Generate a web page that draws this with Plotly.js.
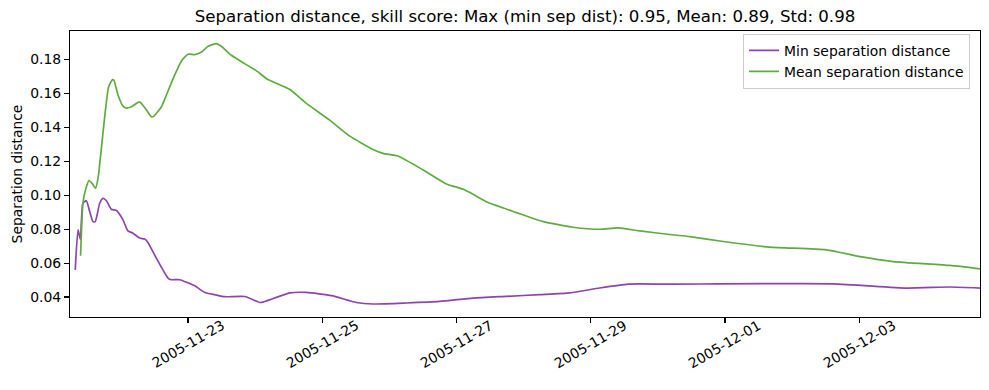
<!DOCTYPE html>
<html>
<head>
<meta charset="utf-8">
<script src="https://cdn.plot.ly/plotly-3.0.1.min.js"></script>
<style>html,body{margin:0;padding:0;background:#fff;}#chart{width:989px;height:390px;}</style>
</head>
<body>
<div id="chart"></div>
<script>
// Min separation distance
const minTimes = [
  '2005-11-21 07:40','2005-11-21 08:40','2005-11-21 09:30','2005-11-21 10:25','2005-11-21 11:40',
  '2005-11-21 12:50','2005-11-21 14:00','2005-11-21 14:50','2005-11-21 16:25','2005-11-21 17:35',
  '2005-11-21 18:50','2005-11-21 20:35','2005-11-21 22:25','2005-11-22 00:45','2005-11-22 02:30',
  '2005-11-22 04:20','2005-11-22 06:40','2005-11-22 08:30','2005-11-22 09:40','2005-11-22 12:40',
  '2005-11-22 16:50','2005-11-22 18:05','2005-11-22 21:00','2005-11-23 02:25','2005-11-23 06:00',
  '2005-11-23 09:35','2005-11-23 13:10','2005-11-23 20:20','2005-11-24 01:40','2005-11-24 02:50',
  '2005-11-24 12:25','2005-11-24 18:20','2005-11-25 03:20','2005-11-25 12:10','2005-11-25 18:10',
  '2005-11-26 06:10','2005-11-26 18:00','2005-11-27 05:55','2005-11-27 17:50','2005-11-28 05:50',
  '2005-11-28 16:30','2005-11-29 03:10','2005-11-29 13:25','2005-11-30 04:20','2005-12-02 14:40',
  '2005-12-03 17:00','2005-12-04 08:30','2005-12-04 19:10'
];
const minValues = [
  0.0560,0.0795,0.0740,0.0952,0.0967,
  0.0903,0.0844,0.0844,0.0952,0.0981,
  0.0967,0.0917,0.0909,0.0854,0.0789,
  0.0776,0.0747,0.0741,0.0721,0.0629,
  0.0512,0.0502,0.0502,0.0466,0.0427,
  0.0414,0.0402,0.0403,0.0368,0.0370,
  0.0424,0.0427,0.0408,0.0368,0.0359,
  0.0365,0.0374,0.0394,0.0404,0.0414,
  0.0424,0.0453,0.0476,0.0476,0.0478,
  0.0453,0.0459,0.0453
];
// Mean separation distance
const meanTimes = [
  '2005-11-21 09:35','2005-11-21 10:25','2005-11-21 11:25','2005-11-21 12:35','2005-11-21 13:50',
  '2005-11-21 14:55','2005-11-21 15:50','2005-11-21 19:35','2005-11-21 21:00','2005-11-21 21:30',
  '2005-11-21 23:00','2005-11-22 00:45','2005-11-22 02:00','2005-11-22 03:45','2005-11-22 06:40',
  '2005-11-22 08:30','2005-11-22 10:55','2005-11-22 11:50','2005-11-22 14:30','2005-11-22 16:15',
  '2005-11-22 18:40','2005-11-22 21:40','2005-11-23 00:00','2005-11-23 02:25','2005-11-23 04:50',
  '2005-11-23 07:10','2005-11-23 10:10','2005-11-23 11:55','2005-11-23 15:30','2005-11-23 20:15',
  '2005-11-24 00:30','2005-11-24 04:35','2005-11-24 12:25','2005-11-24 18:20','2005-11-25 02:40',
  '2005-11-25 09:50','2005-11-25 18:10','2005-11-25 21:45','2005-11-26 03:05','2005-11-26 12:05',
  '2005-11-26 20:25','2005-11-27 02:25','2005-11-27 05:55','2005-11-27 11:20','2005-11-27 21:30',
  '2005-11-28 07:00','2005-11-28 17:45','2005-11-29 03:15','2005-11-29 09:50','2005-11-29 17:35',
  '2005-11-30 04:20','2005-11-30 11:25','2005-11-30 23:25','2005-12-01 16:05','2005-12-02 12:20',
  '2005-12-03 00:20','2005-12-03 12:10','2005-12-04 08:30','2005-12-04 19:10'
];
const meanValues = [
  0.0643,0.0952,0.1034,0.1085,0.1066,
  0.1040,0.1100,0.1637,0.1680,0.1676,
  0.1588,0.1524,0.1512,0.1520,0.1549,
  0.1516,0.1461,0.1465,0.1520,0.1588,
  0.1686,0.1790,0.1829,0.1827,0.1843,
  0.1876,0.1892,0.1876,0.1823,0.1774,
  0.1731,0.1680,0.1622,0.1540,0.1441,
  0.1347,0.1269,0.1246,0.1230,0.1148,
  0.1066,0.1034,0.1005,0.0956,0.0897,
  0.0844,0.0811,0.0799,0.0807,0.0789,
  0.0768,0.0756,0.0727,0.0694,0.0678,
  0.0638,0.0609,0.0586,0.0566
];
const seriesNames = ['Min separation distance', 'Mean separation distance'];
const xTickVals = ['2005-11-23','2005-11-25','2005-11-27','2005-11-29','2005-12-01','2005-12-03'];
const xTickText = ['2005-11-23','2005-11-25','2005-11-27','2005-11-29','2005-12-01','2005-12-03'];
const yTickVals = [0.04,0.06,0.08,0.10,0.12,0.14,0.16,0.18];
const titleText = 'Separation distance, skill score: Max (min sep dist): 0.95, Mean: 0.89, Std: 0.98';

const FONT = 'DejaVu Sans, sans-serif';
const traces = [
  {x: minTimes, y: minValues, name: seriesNames[0], type: 'scatter', mode: 'lines',
   line: {color: '#8e44ad', width: 1.7, shape: 'spline', smoothing: 0.5}},
  {x: meanTimes, y: meanValues, name: seriesNames[1], type: 'scatter', mode: 'lines',
   line: {color: '#5fab40', width: 1.7, shape: 'spline', smoothing: 0.5}}
];
const annotations = xTickVals.map((v, i) => ({
  x: v, xref: 'x', y: 0, yref: 'paper', text: xTickText[i], showarrow: false,
  textangle: -30, xanchor: 'center', yanchor: 'middle', yshift: -27,
  font: {family: FONT, size: 13.9, color: '#000'}
}));
const layout = {
  width: 989, height: 390,
  margin: {l: 70, r: 9, t: 31, b: 73, pad: 0},
  paper_bgcolor: '#fff', plot_bgcolor: '#fff',
  font: {family: FONT, size: 13.9, color: '#000'},
  title: {text: titleText, font: {family: FONT, size: 16.6, color: '#000'},
          x: 0.5, xref: 'paper', y: 1 - 16/390, yref: 'container', yanchor: 'middle'},
  xaxis: {type: 'date', range: ['2005-11-21 05:48', '2005-12-04 19:12'],
          tickvals: xTickVals, showticklabels: false, ticks: 'outside', ticklen: 5,
          tickwidth: 1.1, tickcolor: '#000', showgrid: false, zeroline: false,
          showline: true, linecolor: '#000', linewidth: 1.1, mirror: true, automargin: false},
  yaxis: {range: [0.02825, 0.1966], tickvals: yTickVals, tickformat: '.2f',
          ticks: 'outside', ticklen: 5, tickwidth: 1.1, tickcolor: '#000',
          tickfont: {family: FONT, size: 13.9, color: '#000'},
          showgrid: false, zeroline: false, showline: true, linecolor: '#000',
          linewidth: 1.1, mirror: true, automargin: false,
          title: {text: 'Separation distance', font: {family: FONT, size: 13.9, color: '#000'}, standoff: 4}},
  legend: {x: 0.7396, y: 0.99, xanchor: 'left', yanchor: 'top', bgcolor: 'rgba(255,255,255,0.8)',
           bordercolor: '#cccccc', borderwidth: 1, font: {family: FONT, size: 13.9, color: '#000'},
           tracegroupgap: 0},
  showlegend: true,
  annotations: annotations
};
Plotly.newPlot('chart', traces, layout, {staticPlot: true, displayModeBar: false});
</script>
</body>
</html>
